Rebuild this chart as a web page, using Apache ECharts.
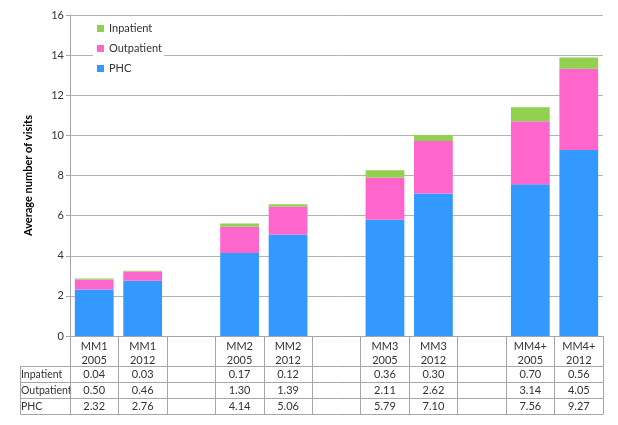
<!DOCTYPE html>
<html><head><meta charset="utf-8">
<script src="https://cdn.jsdelivr.net/npm/echarts@6/dist/echarts.min.js"></script>
<style>html,body{margin:0;padding:0;background:#fff}#c{width:618px;height:425px}</style>
</head><body><div id="c"></div>
<script>
const categories = ['MM1\n2005','MM1\n2012','', 'MM2\n2005','MM2\n2012',' ', 'MM3\n2005','MM3\n2012','  ', 'MM4+\n2005','MM4+\n2012'];
const inpatient  = [0.04, 0.03, null, 0.17, 0.12, null, 0.36, 0.30, null, 0.70, 0.56];
const outpatient = [0.50, 0.46, null, 1.30, 1.39, null, 2.11, 2.62, null, 3.14, 4.05];
const phc        = [2.32, 2.76, null, 4.14, 5.06, null, 5.79, 7.10, null, 7.56, 9.27];
const rowNames = ['Inpatient', 'Outpatient', 'PHC'];
const rowValues = [inpatient, outpatient, phc];

const FONT = 'Lato';
const LINE = '#a6a6a6';
const fmt = v => (v == null ? '' : v.toFixed(2));

const xAxes = [{
  type: 'category', data: categories, position: 'bottom', gridIndex: 0,
  axisLine: { lineStyle: { color: LINE } },
  axisTick: { show: true, interval: 0, length: 78, lineStyle: { color: LINE } },
  axisLabel: { interval: 0, fontFamily: FONT, fontSize: 11, color: '#333', margin: 3, lineHeight: 14 }
}];
rowNames.forEach((n, i) => {
  xAxes.push({
    type: 'category', data: rowValues[i].map(fmt), position: 'bottom', gridIndex: 0,
    offset: 30 + 16 * i,
    name: n, nameLocation: 'start', nameGap: 49,
    nameTextStyle: { align: 'left', verticalAlign: 'top', padding: [3, 0, 0, 0], fontFamily: FONT, fontSize: 10.5, color: '#333' },
    axisLine: { lineStyle: { color: LINE } },
    axisTick: { show: false },
    axisLabel: { interval: 0, fontFamily: FONT, fontSize: 11, color: '#333', margin: 3 }
  });
});
xAxes.push({
  type: 'category', data: categories, position: 'bottom', gridIndex: 0, offset: 78,
  axisLine: { lineStyle: { color: LINE } }, axisTick: { show: false }, axisLabel: { show: false }
});

const chart = echarts.init(document.getElementById('c'), null, { renderer: 'canvas' });
chart.setOption({
  animation: false,
  backgroundColor: '#fff',
  grid: { left: 70, right: 15, top: 15, bottom: 89, containLabel: false },
  legend: {
    data: ['Inpatient', 'Outpatient', 'PHC'],
    orient: 'vertical', left: 93, top: 20,
    itemWidth: 7, itemHeight: 7, itemGap: 9,
    backgroundColor: '#fff', padding: [3, 2, 3, 4],
    textStyle: { fontFamily: FONT, fontSize: 11, color: '#333' },
    icon: 'rect'
  },
  xAxis: xAxes,
  yAxis: {
    type: 'value', min: 0, max: 16, interval: 2,
    name: 'Average number of visits', nameLocation: 'middle', nameGap: 36,
    nameTextStyle: { fontFamily: FONT, fontSize: 11, fontWeight: 'bold', color: '#000' },
    axisLine: { show: true, lineStyle: { color: LINE } },
    axisTick: { show: true, length: 4, lineStyle: { color: LINE } },
    axisLabel: { fontFamily: FONT, fontSize: 11, color: '#333', margin: 6 },
    splitLine: { lineStyle: { color: '#b3b3b3' } }
  },
  series: [
    { name: 'PHC', type: 'bar', stack: 'v', data: phc, barWidth: '80%', itemStyle: { color: '#3399ff' } },
    { name: 'Outpatient', type: 'bar', stack: 'v', data: outpatient, barWidth: '80%', itemStyle: { color: '#ff66cc' } },
    { name: 'Inpatient', type: 'bar', stack: 'v', data: inpatient, barWidth: '80%', itemStyle: { color: '#92d050' } }
  ],
  graphic: [
    { type: 'rect', shape: { x: 20.5, y: 366.5, width: 50, height: 48 }, style: { fill: 'none', stroke: LINE, lineWidth: 1 } },
    { type: 'line', shape: { x1: 20.5, y1: 382.5, x2: 70.5, y2: 382.5 }, style: { stroke: LINE, lineWidth: 1 } },
    { type: 'line', shape: { x1: 20.5, y1: 398.5, x2: 70.5, y2: 398.5 }, style: { stroke: LINE, lineWidth: 1 } }
  ]
});
</script></body></html>
